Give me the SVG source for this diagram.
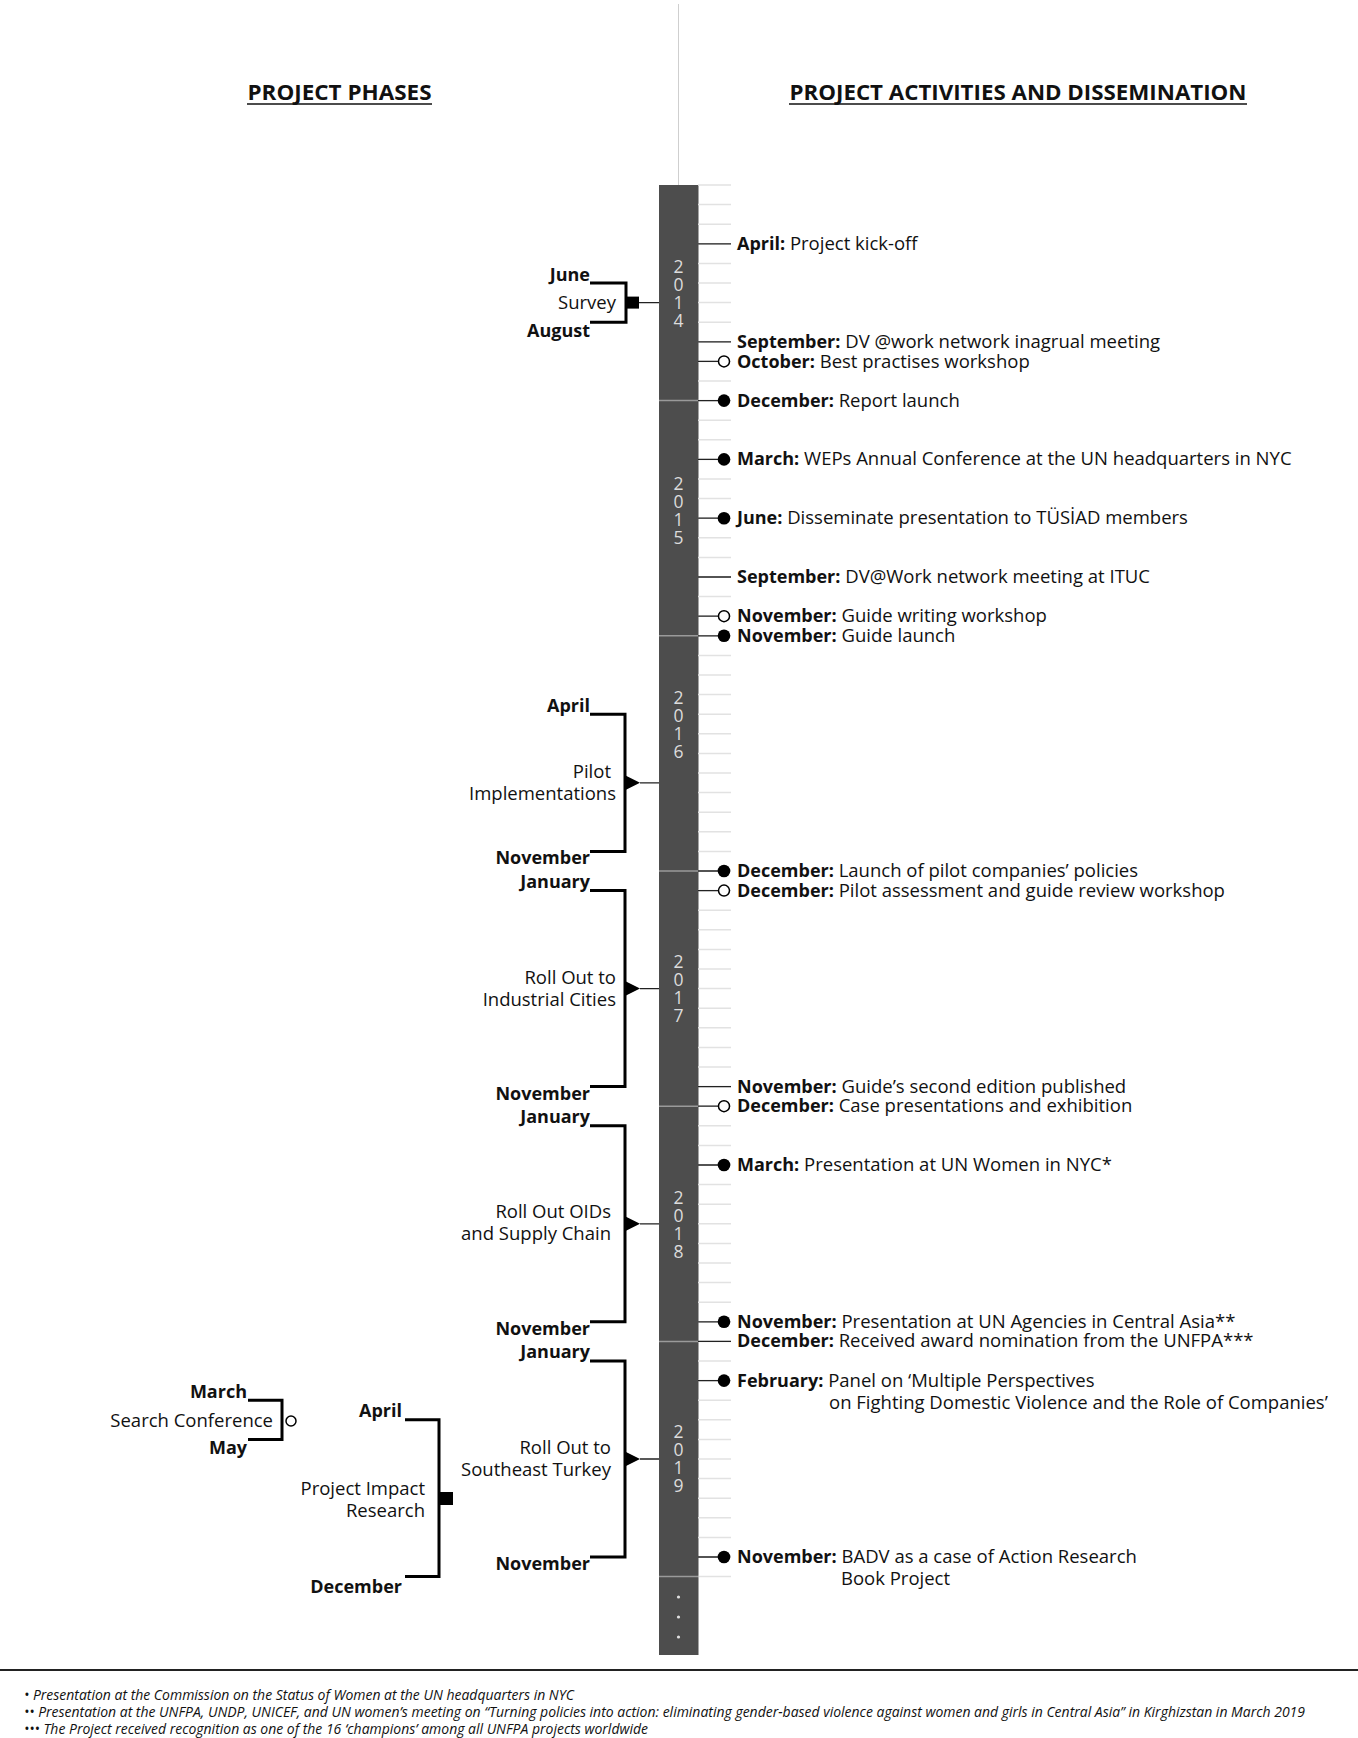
<svg xmlns="http://www.w3.org/2000/svg" width="1358" height="1738" viewBox="0 0 1358 1738">
<style>
text{font-family:"Open Sans","Liberation Sans",sans-serif;font-size:18.5px;fill:#111}
.b{font-weight:700;font-size:18px}
.r{text-anchor:end}
.hd{font-weight:700;font-size:21.5px;text-anchor:middle}
.yr{font-size:17.5px;fill:#dcdcdc;text-anchor:middle}
.br{fill:none;stroke:#000;stroke-width:3}
.cn{stroke:#222;stroke-width:1.3;fill:none}
.tk{stroke:#e2e2e2;stroke-width:1.5;fill:none}
.yb{stroke:#9a9a9a;stroke-width:1.5}
.fn{font-size:14px;font-style:italic}
.dot{fill:#000}
.odot{fill:#fff;stroke:#000;stroke-width:1.5}
</style>
<rect width="1358" height="1738" fill="#fff"/>

<g id="headers">
<text class="hd" x="339.5" y="100" textLength="184" lengthAdjust="spacingAndGlyphs">PROJECT PHASES</text>
<line x1="247" y1="104" x2="432" y2="104" stroke="#111" stroke-width="1.6"/>
<text class="hd" x="1018" y="100" textLength="457" lengthAdjust="spacingAndGlyphs">PROJECT ACTIVITIES AND DISSEMINATION</text>
<line x1="789" y1="104" x2="1247" y2="104" stroke="#111" stroke-width="1.6"/>
</g>

<g id="timeline">
<line x1="678.5" y1="4" x2="678.5" y2="185" stroke="#cfcfcf" stroke-width="1"/>
<rect x="659" y="185" width="39.5" height="1470" fill="#4d4d4d"/>
<path class="tk" d="M698 185H731M698 204.6H731M698 224.2H731M698 243.8H731M698 263.4H731M698 283H731M698 302.6H731M698 322.2H731M698 341.8H731M698 361.4H731M698 381H731M698 400.6H731M698 420.2H731M698 439.8H731M698 459.4H731M698 479H731M698 498.6H731M698 518.2H731M698 537.8H731M698 557.4H731M698 577H731M698 596.6H731M698 616.2H731M698 635.8H731M698 655.4H731M698 675H731M698 694.6H731M698 714.2H731M698 733.8H731M698 753.4H731M698 773H731M698 792.6H731M698 812.2H731M698 831.8H731M698 851.4H731M698 871H731M698 890.6H731M698 910.2H731M698 929.8H731M698 949.4H731M698 969H731M698 988.6H731M698 1008.2H731M698 1027.8H731M698 1047.4H731M698 1067H731M698 1086.6H731M698 1106.2H731M698 1125.8H731M698 1145.4H731M698 1165H731M698 1184.6H731M698 1204.2H731M698 1223.8H731M698 1243.4H731M698 1263H731M698 1282.6H731M698 1302.2H731M698 1321.8H731M698 1341.4H731M698 1361H731M698 1380.6H731M698 1400.2H731M698 1419.8H731M698 1439.4H731M698 1459H731M698 1478.6H731M698 1498.2H731M698 1517.8H731M698 1537.4H731M698 1557H731M698 1576.6H731"/>
<g class="yb">
<line x1="659" y1="400.6" x2="698.5" y2="400.6"/>
<line x1="659" y1="635.8" x2="698.5" y2="635.8"/>
<line x1="659" y1="871" x2="698.5" y2="871"/>
<line x1="659" y1="1106.2" x2="698.5" y2="1106.2"/>
<line x1="659" y1="1341.4" x2="698.5" y2="1341.4"/>
<line x1="659" y1="1576.6" x2="698.5" y2="1576.6"/>
</g>
<text class="yr" x="678.5" y="273"><tspan x="678.5">2</tspan><tspan x="678.5" dy="18">0</tspan><tspan x="678.5" dy="18">1</tspan><tspan x="678.5" dy="18">4</tspan></text>
<text class="yr" x="678.5" y="490"><tspan x="678.5">2</tspan><tspan x="678.5" dy="18">0</tspan><tspan x="678.5" dy="18">1</tspan><tspan x="678.5" dy="18">5</tspan></text>
<text class="yr" x="678.5" y="704"><tspan x="678.5">2</tspan><tspan x="678.5" dy="18">0</tspan><tspan x="678.5" dy="18">1</tspan><tspan x="678.5" dy="18">6</tspan></text>
<text class="yr" x="678.5" y="968"><tspan x="678.5">2</tspan><tspan x="678.5" dy="18">0</tspan><tspan x="678.5" dy="18">1</tspan><tspan x="678.5" dy="18">7</tspan></text>
<text class="yr" x="678.5" y="1204"><tspan x="678.5">2</tspan><tspan x="678.5" dy="18">0</tspan><tspan x="678.5" dy="18">1</tspan><tspan x="678.5" dy="18">8</tspan></text>
<text class="yr" x="678.5" y="1438"><tspan x="678.5">2</tspan><tspan x="678.5" dy="18">0</tspan><tspan x="678.5" dy="18">1</tspan><tspan x="678.5" dy="18">9</tspan></text>
<circle cx="678.5" cy="1597" r="1.6" fill="#e0e0e0"/>
<circle cx="678.5" cy="1617" r="1.6" fill="#e0e0e0"/>
<circle cx="678.5" cy="1637" r="1.6" fill="#e0e0e0"/>
</g>

<g id="connectors">
<path class="cn" d="M698 243.8H731M698 341.8H731M698 361.4H718M698 400.6H718M698 459.4H718M698 518.2H718M698 577H731M698 616.2H718M698 635.8H718M698 871H718M698 890.6H718M698 1086.6H731M698 1106.2H718M698 1165H718M698 1321.8H718M698 1341.4H731M698 1380.6H718M698 1557H718"/>
<path class="cn" d="M639 302.6H659M640 782.8H659M640 988.6H659M640 1223.8H659M640 1459H659"/>
</g>

<g id="phase-survey">
<path class="br" d="M590 283H626V322.2H590"/>
<rect x="627" y="296.6" width="12" height="12" fill="#000"/>
<text class="b r" x="590" y="280.5">June</text>
<text class="r" x="616" y="309">Survey</text>
<text class="b r" x="590" y="336.5">August</text>
</g>

<g id="phase-pilot">
<path class="br" d="M590 714.2H625V851.4H590"/>
<path d="M626 775.8L640 782.8L626 789.8Z" fill="#000"/>
<text class="b r" x="590" y="711.5">April</text>
<text class="r" x="611" y="778">Pilot</text>
<text class="r" x="616" y="799.5">Implementations</text>
<text class="b r" x="590" y="864">November</text>
</g>

<g id="phase-industrial">
<path class="br" d="M590 890.6H625V1086.6H590"/>
<path d="M626 981.6L640 988.6L626 995.6Z" fill="#000"/>
<text class="b r" x="590" y="888">January</text>
<text class="r" x="616" y="984">Roll Out to</text>
<text class="r" x="616" y="1006">Industrial Cities</text>
<text class="b r" x="590" y="1099.5">November</text>
</g>

<g id="phase-oids">
<path class="br" d="M590 1125.8H625V1321.8H590"/>
<path d="M626 1216.8L640 1223.8L626 1230.8Z" fill="#000"/>
<text class="b r" x="590" y="1123">January</text>
<text class="r" x="611" y="1218">Roll Out OIDs</text>
<text class="r" x="611" y="1240">and Supply Chain</text>
<text class="b r" x="590" y="1334.5">November</text>
</g>

<g id="phase-southeast">
<path class="br" d="M590 1361H625V1557H590"/>
<path d="M626 1452L640 1459L626 1466Z" fill="#000"/>
<text class="b r" x="590" y="1358">January</text>
<text class="r" x="611" y="1453.5">Roll Out to</text>
<text class="r" x="611" y="1475.5">Southeast Turkey</text>
<text class="b r" x="590" y="1570">November</text>
</g>

<g id="phase-impact">
<path class="br" d="M405 1419.8H439V1576.6H405"/>
<rect x="440" y="1492" width="13" height="13" fill="#000"/>
<text class="b r" x="402" y="1417">April</text>
<text class="r" x="425" y="1495">Project Impact</text>
<text class="r" x="425" y="1517">Research</text>
<text class="b r" x="402" y="1593">December</text>
</g>

<g id="phase-search">
<path class="br" d="M248 1400.2H282V1439.4H248"/>
<circle class="odot" cx="291" cy="1421" r="5"/>
<text class="b r" x="247" y="1398">March</text>
<text class="r" x="273" y="1427">Search Conference</text>
<text class="b r" x="247" y="1454">May</text>
</g>

<g id="activities">
<g id="a2014-apr"><text x="737" y="250"><tspan class="b">April:</tspan> Project kick-off</text></g>
<g id="a2014-sep"><text x="737" y="348"><tspan class="b">September:</tspan> DV @work network inagrual meeting</text></g>
<g id="a2014-oct"><circle class="odot" cx="724" cy="361.4" r="5.5"/><text x="737" y="367.5"><tspan class="b">October:</tspan> Best practises workshop</text></g>
<g id="a2014-dec"><circle class="dot" cx="724" cy="400.6" r="6.3"/><text x="737" y="406.6"><tspan class="b">December:</tspan> Report launch</text></g>
<g id="a2015-mar"><circle class="dot" cx="724" cy="459.4" r="6.3"/><text x="737" y="465.4"><tspan class="b">March:</tspan> WEPs Annual Conference at the UN headquarters in NYC</text></g>
<g id="a2015-jun"><circle class="dot" cx="724" cy="518.2" r="6.3"/><text x="737" y="524.2"><tspan class="b">June:</tspan> Disseminate presentation to TÜSİAD members</text></g>
<g id="a2015-sep"><text x="737" y="583"><tspan class="b">September:</tspan> DV@Work network meeting at ITUC</text></g>
<g id="a2015-nov1"><circle class="odot" cx="724" cy="616.2" r="5.5"/><text x="737" y="622.2"><tspan class="b">November:</tspan> Guide writing workshop</text></g>
<g id="a2015-nov2"><circle class="dot" cx="724" cy="635.8" r="6.3"/><text x="737" y="641.8"><tspan class="b">November:</tspan> Guide launch</text></g>
<g id="a2016-dec1"><circle class="dot" cx="724" cy="871" r="6.3"/><text x="737" y="877"><tspan class="b">December:</tspan> Launch of pilot companies’ policies</text></g>
<g id="a2016-dec2"><circle class="odot" cx="724" cy="890.6" r="5.5"/><text x="737" y="896.6"><tspan class="b">December:</tspan> Pilot assessment and guide review workshop</text></g>
<g id="a2017-nov"><text x="737" y="1092.6"><tspan class="b">November:</tspan> Guide’s second edition published</text></g>
<g id="a2017-dec"><circle class="odot" cx="724" cy="1106.2" r="5.5"/><text x="737" y="1112.2"><tspan class="b">December:</tspan> Case presentations and exhibition</text></g>
<g id="a2018-mar"><circle class="dot" cx="724" cy="1165" r="6.3"/><text x="737" y="1171"><tspan class="b">March:</tspan> Presentation at UN Women in NYC*</text></g>
<g id="a2018-nov"><circle class="dot" cx="724" cy="1321.8" r="6.3"/><text x="737" y="1327.8"><tspan class="b">November:</tspan> Presentation at UN Agencies in Central Asia**</text></g>
<g id="a2018-dec"><text x="737" y="1347.4"><tspan class="b">December:</tspan> Received award nomination from the UNFPA***</text></g>
<g id="a2019-feb"><circle class="dot" cx="724" cy="1380.6" r="6.3"/><text x="737" y="1386.6"><tspan class="b">February:</tspan> Panel on ‘Multiple Perspectives</text><text x="829" y="1408.6">on Fighting Domestic Violence and the Role of Companies’</text></g>
<g id="a2019-nov"><circle class="dot" cx="724" cy="1557" r="6.3"/><text x="737" y="1563"><tspan class="b">November:</tspan> BADV as a case of Action Research</text><text x="841" y="1585">Book Project</text></g>
</g>

<g id="footnotes">
<line x1="0" y1="1670" x2="1358" y2="1670" stroke="#222" stroke-width="2"/>
<text class="fn" x="24" y="1700" textLength="550" lengthAdjust="spacingAndGlyphs">• Presentation at the Commission on the Status of Women at the UN headquarters in NYC</text>
<text class="fn" x="24" y="1717" textLength="1281" lengthAdjust="spacingAndGlyphs">•• Presentation at the UNFPA, UNDP, UNICEF, and UN women’s meeting on “Turning policies into action: eliminating gender-based violence against women and girls in Central Asia” in Kirghizstan in March 2019</text>
<text class="fn" x="24" y="1733.5" textLength="624" lengthAdjust="spacingAndGlyphs">••• The Project received recognition as one of the 16 ‘champions’ among all UNFPA projects worldwide</text>
</g>
</svg>
